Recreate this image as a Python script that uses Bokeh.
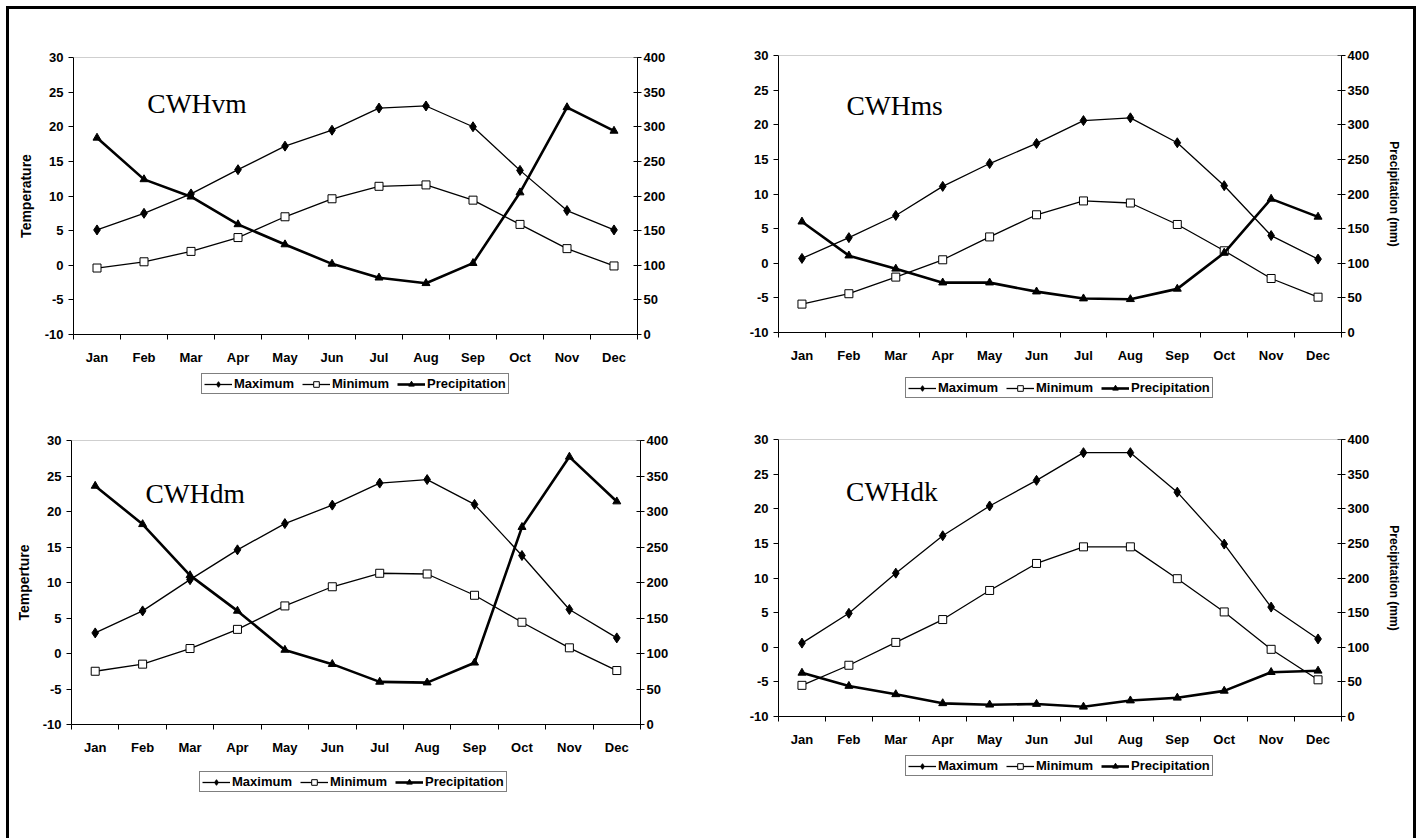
from bokeh.plotting import figure
from bokeh.models import (Range1d, LinearAxis, FixedTicker, Legend, LegendItem,
                          Label, Span)
from bokeh.layouts import column, row
from bokeh.embed import file_html
from bokeh.resources import INLINE

months = ["Jan", "Feb", "Mar", "Apr", "May", "Jun",
          "Jul", "Aug", "Sep", "Oct", "Nov", "Dec"]
temp_ticks = [-10, -5, 0, 5, 10, 15, 20, 25, 30]
pcp_ticks = [0, 50, 100, 150, 200, 250, 300, 350, 400]
series_names = ["Maximum", "Minimum", "Precipitation"]

# CWHvm
vm_max = [5.1, 7.5, 10.3, 13.8, 17.2, 19.5, 22.7, 23.0, 20.0, 13.7, 7.9, 5.1]
vm_min = [-0.4, 0.5, 2.0, 4.0, 7.0, 9.6, 11.4, 11.6, 9.4, 5.9, 2.4, -0.1]
vm_pcp = [284, 224, 199, 159, 130, 102, 82, 74, 103, 205, 328, 294]
# CWHms
ms_max = [0.7, 3.7, 6.9, 11.1, 14.4, 17.3, 20.6, 21.0, 17.4, 11.2, 4.0, 0.6]
ms_min = [-5.9, -4.4, -2.0, 0.5, 3.8, 7.0, 9.0, 8.7, 5.6, 1.8, -2.2, -4.9]
ms_pcp = [160, 111, 92, 72, 72, 59, 49, 48, 63, 115, 193, 167]
# CWHdm
dm_max = [2.9, 6.0, 10.4, 14.6, 18.3, 20.9, 24.0, 24.5, 21.0, 13.8, 6.2, 2.2]
dm_min = [-2.5, -1.5, 0.7, 3.4, 6.7, 9.4, 11.3, 11.2, 8.2, 4.4, 0.8, -2.4]
dm_pcp = [336, 282, 210, 160, 105, 85, 60, 59, 87, 278, 377, 314]
# CWHdk
dk_max = [0.6, 4.9, 10.7, 16.1, 20.4, 24.1, 28.1, 28.1, 22.4, 14.9, 5.8, 1.2]
dk_min = [-5.5, -2.6, 0.7, 4.0, 8.2, 12.1, 14.5, 14.5, 9.9, 5.1, -0.3, -4.7]
dk_pcp = [63, 44, 32, 19, 17, 18, 14, 23, 27, 37, 64, 66]

FONT = "Liberation Sans"
xpos = list(range(1, len(months) + 1))
bounds = [i + 0.5 for i in range(len(months) + 1)]

STY_MAX = dict(line_color="black", line_width=1.3)
STY_MAX_M = dict(marker="diamond", size=10, fill_color="black", line_color="black")
STY_MIN = dict(line_color="black", line_width=1.3)
STY_MIN_M = dict(marker="square", size=8, fill_color="white", line_color="black",
                 line_width=1)
STY_PCP = dict(line_color="black", line_width=2.6)
STY_PCP_M = dict(marker="triangle", size=8, fill_color="black", line_color="black")


def style_ticks(ax, size="13px"):
    ax.major_label_text_font = FONT
    ax.major_label_text_font_style = "bold"
    ax.major_label_text_font_size = size
    ax.major_label_text_color = "black"
    ax.axis_line_color = "black"
    ax.major_tick_line_color = "black"


def make_panel(name, tmax, tmin, pcp, width, height, mb, left_label,
               right_label, title_xy, leg_h, leg_loc):
    p = figure(width=width, height=height,
               x_range=Range1d(0.5, len(months) + 0.5),
               y_range=Range1d(temp_ticks[0], temp_ticks[-1]),
               output_backend="svg", toolbar_location=None,
               min_border_left=mb[0], min_border_right=mb[1],
               min_border_top=mb[2], min_border_bottom=mb[3])
    p.extra_y_ranges = {"pcp": Range1d(pcp_ticks[0], pcp_ticks[-1])}
    p.outline_line_color = None
    p.background_fill_color = "white"
    p.border_fill_color = "white"
    p.grid.visible = False

    # x axis (ticks at month boundaries, labels at month centres)
    xa = p.xaxis[0]
    xa.ticker = FixedTicker(ticks=xpos, minor_ticks=bounds)
    xa.major_label_overrides = {x: m for x, m in zip(xpos, months)}
    style_ticks(xa)
    xa.major_tick_out = 0
    xa.major_tick_in = 0
    xa.minor_tick_out = 5
    xa.minor_tick_in = 0
    xa.minor_tick_line_color = "black"
    xa.major_label_standoff = 10

    # left axis
    ya = p.yaxis[0]
    ya.ticker = FixedTicker(ticks=temp_ticks)
    ya.major_label_overrides = {t: str(t) for t in temp_ticks}
    style_ticks(ya)
    ya.major_tick_out = 5
    ya.major_tick_in = 0
    ya.minor_tick_out = 0
    ya.minor_tick_in = 0
    ya.major_label_standoff = 5
    if left_label:
        ya.axis_label = left_label
        ya.axis_label_text_font = FONT
        ya.axis_label_text_font_style = "bold"
        ya.axis_label_text_font_size = "14px"
        ya.axis_label_text_color = "black"
        ya.axis_label_standoff = 8

    # right axis (precipitation)
    ra = LinearAxis(y_range_name="pcp", ticker=FixedTicker(ticks=pcp_ticks))
    ra.major_label_overrides = {t: str(t) for t in pcp_ticks}
    style_ticks(ra)
    ra.major_tick_out = 4
    ra.major_tick_in = 4
    ra.minor_tick_out = 0
    ra.minor_tick_in = 0
    ra.major_label_standoff = 2
    if right_label:
        ra.axis_label = right_label
        ra.axis_label_text_font = FONT
        ra.axis_label_text_font_style = "bold"
        ra.axis_label_text_font_size = "12px"
        ra.axis_label_text_color = "black"
        ra.axis_label_standoff = 15
    p.add_layout(ra, "right")

    p.add_layout(Span(location=temp_ticks[-1], dimension="width",
                      line_color="#a0a0a0", line_width=1))

    p.line(xpos, tmax, **STY_MAX)
    p.scatter(xpos, tmax, **STY_MAX_M)
    p.line(xpos, tmin, **STY_MIN)
    p.scatter(xpos, tmin, **STY_MIN_M)
    p.line(xpos, pcp, y_range_name="pcp", **STY_PCP)
    p.scatter(xpos, pcp, y_range_name="pcp", **STY_PCP_M)

    p.add_layout(Label(x=title_xy[0], y=title_xy[1], text=name,
                       text_font="Liberation Serif", text_font_size="27.5px",
                       text_color="black", text_baseline="alphabetic",
                       text_align="left"))

    # legend strip underneath the chart (its renderers lie outside its view)
    lf = figure(width=width, height=leg_h, output_backend="svg",
                toolbar_location=None, x_axis_location=None,
                y_axis_location=None, min_border=0,
                x_range=Range1d(-2, -1), y_range=Range1d(-2, -1))
    lf.outline_line_color = None
    lf.grid.visible = False
    lf.background_fill_color = "white"
    lf.border_fill_color = "white"
    r1 = [lf.line(xpos, tmax, **STY_MAX), lf.scatter(xpos, tmax, **STY_MAX_M)]
    r2 = [lf.line(xpos, tmin, **STY_MIN), lf.scatter(xpos, tmin, **STY_MIN_M)]
    r3 = [lf.line(xpos, pcp, **STY_PCP), lf.scatter(xpos, pcp, **STY_PCP_M)]
    legend = Legend(items=[
        LegendItem(label=series_names[0], renderers=r1),
        LegendItem(label=series_names[1], renderers=r2),
        LegendItem(label=series_names[2], renderers=r3),
    ], location=leg_loc, orientation="horizontal",
        border_line_color="black", border_line_width=1,
        background_fill_color="white", background_fill_alpha=1,
        padding=2, spacing=8, margin=0, glyph_width=28, glyph_height=14,
        label_standoff=2, label_height=14,
        label_text_font=FONT, label_text_font_style="bold",
        label_text_font_size="13px", label_text_color="black")
    lf.add_layout(legend)
    return column(p, lf)


c1 = make_panel("CWHvm", vm_max, vm_min, vm_pcp, 707, 363, (64, 79, 48, 38),
                "Temperature", None, (2.07, 23.3), 27, (128, 5))
c2 = make_panel("CWHms", ms_max, ms_min, ms_pcp, 697, 365, (62, 72, 46, 42),
                None, "Precipitation (mm)", (1.95, 22.8), 25, (127, 1))
c3 = make_panel("CWHdm", dm_max, dm_min, dm_pcp, 707, 365, (62, 76, 41, 40),
                "Temperture", None, (2.06, 22.6), 74, (128, 46))
c4 = make_panel("CWHdk", dk_max, dk_min, dk_pcp, 697, 355, (62, 72, 40, 38),
                None, "Precipitation (mm)", (1.94, 22.5), 84, (127, 62))

layout = column(row(c1, c2), row(c3, c4),
                styles={"margin-left": "6px", "margin-top": "6px",
                        "border-left": "3px solid black",
                        "border-top": "3px solid black",
                        "border-right": "3px solid black"})

open("out.html", "w").write(file_html(layout, INLINE))
